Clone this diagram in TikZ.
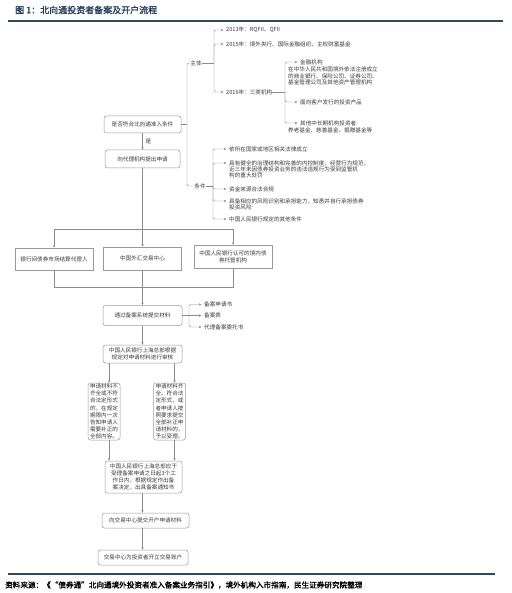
\documentclass[tikz,border=0pt]{standalone}
\usepackage{fontspec}
\newfontfamily\cjk{Noto Sans CJK SC}
\newfontfamily\cjkb[FakeBold=1.5]{Noto Sans CJK SC}
\usetikzlibrary{arrows.meta}
\definecolor{linegray}{HTML}{8C8C8C}
\definecolor{boxgray}{HTML}{9A9A9A}
\definecolor{txt}{HTML}{3A3A3A}
\definecolor{navy}{HTML}{243F60}
\definecolor{barc}{HTML}{2E4B5E}
\begin{document}
\begin{tikzpicture}[x=1pt,y=-1pt,
 box/.style={draw=boxgray, line width=0.5pt, rounded corners=2.5pt, align=center, inner sep=0pt, font=\cjk\fontsize{5.6}{7.2}\selectfont, text=txt},
 sqbox/.style={box, rounded corners=0pt},
 lbl/.style={inner sep=0.5pt, font=\cjk\fontsize{5.6}{7}\selectfont, text=txt},
 item/.style={anchor=west, inner sep=0pt, font=\cjk\fontsize{5.6}{7}\selectfont, text=txt},
 sub/.style={anchor=north west, inner sep=0pt, align=left, font=\cjk\fontsize{5.6}{6.3}\selectfont, text=txt},
 conn/.style={draw=linegray, line width=0.45pt},
 arr/.style={conn, -{Stealth[length=2.6pt,width=2.4pt]}},
 barr/.style={arr, shorten >=2.5pt, rounded corners=1.5pt},
]
\useasboundingbox (0,0) rectangle (511,593);
\fill[white] (0,0) rectangle (511,593);

% title and bars
\node[anchor=west, inner sep=0pt, font=\cjkb\fontsize{9}{10}\selectfont, text=navy] (title) at (15,10) {图 1：北向通投资者备案及开户流程};
\draw[barc, line width=1.8pt] (8,21) -- (503,21);
\draw[barc, line width=1.5pt] (8,574) -- (495,574);
\node[anchor=west, inner sep=0pt, font=\cjkb\fontsize{7.6}{8}\selectfont, text=black] (src) at (5,585) {资料来源：《“债券通”北向通境外投资者准入备案业务指引》，境外机构入市指南，民生证券研究院整理};

% main column
\node[box, minimum width=77pt, minimum height=17pt] (b1) at (142.5,124.5) {是否符合北向通准入条件};
\node[box, minimum width=75pt, minimum height=18pt] (b2) at (142.5,159) {向代理机构提出申请};
\draw[arr] (b1) -- (b2);
\node[lbl, anchor=west] (yes) at (145,141) {是};

\node[sqbox, minimum width=78pt, minimum height=22pt] (ba) at (54,259) {银行间债券市场结算代理人};
\node[sqbox, minimum width=78pt, minimum height=23pt] (bb) at (142.5,258.5) {中国外汇交易中心};
\node[sqbox, minimum width=78pt, minimum height=23pt] (bc) at (233,256.5) {中国人民银行认可的境内债\\券托管机构};
\coordinate (jt) at (142.5,229);
\draw[conn] (b2) -- (jt);
\draw[arr] (jt) -| (ba.north);
\draw[arr] (jt) -| (bc.north);
\draw[arr] (jt) -- (bb.north);
\coordinate (jb) at (142.5,287);
\draw[conn] (ba.south) |- (jb);
\draw[conn] (bc.south) |- (jb);
\draw[conn] (bb.south) -- (jb);

\node[box, minimum width=79pt, minimum height=20pt] (b3) at (142.5,315.5) {通过备案系统提交材料};
\draw[arr] (jb) -- (b3.north);
\coordinate (k3) at (189,315.5);
\node[item] (m1) at (204,304.5) {备案申请书};
\node[item] (m2) at (204,315.5) {备案表};
\node[item] (m3) at (204,327) {代理备案委托书};
\draw[conn] (b3.east) -- (k3);
\draw[barr] (k3) |- (m1.west);
\draw[barr] (k3) -- (m2.west);
\draw[barr] (k3) |- (m3.west);

\node[box, minimum width=79pt, minimum height=18pt] (b4) at (142.5,354) {中国人民银行上海总部根据\\规定对申请材料进行审核};
\draw[arr] (b3) -- (b4);

\node[box, minimum width=32pt, minimum height=57pt] (b5) at (104,411.5) {申请材料不\\齐全或不符\\合法定形式\\的，在规定\\期限内一次\\告知申请人\\需要补正的\\全部内容。};
\node[box, minimum width=32pt, minimum height=57pt] (b6) at (169.5,411.5) {申请材料齐\\全、符合法\\定形式，或\\者申请人按\\照要求提交\\全部补正申\\请材料的，\\予以受理。};
\coordinate (l5) at ([xshift=5pt]b5.north);
\coordinate (l6) at ([xshift=5pt]b6.north);
\draw[arr] (l5 |- b4.south) -- (l5);
\draw[arr] (l6 |- b4.south) -- (l6);

\node[box, minimum width=77pt, minimum height=32pt] (b7) at (143.5,477) {中国人民银行上海总部应于\\受理备案申请之日起3个工\\作日内，根据规定作出备\\案决定，出具备案通知书};
\coordinate (l5b) at ([xshift=5pt]b5.south);
\coordinate (l6b) at ([xshift=5pt]b6.south);
\draw[arr] (l5b) -- (l5b |- b7.north);
\draw[arr] (l6b) -- (l6b |- b7.north);

\node[box, minimum width=87pt, minimum height=15pt] (b8) at (145.5,520.5) {向交易中心提交开户申请材料};
\node[box, minimum width=90pt, minimum height=15pt] (b9) at (143,557.5) {交易中心为投资者开立交易账户};
\coordinate (c7) at (142.5,493);
\draw[arr] (c7) -- (c7 |- b8.north);
\draw[arr] (c7 |- b8.south) -- (c7 |- b9.north);

% right structure
\node[lbl] (zt) at (196,63) {主体};
\node[lbl] (tj) at (200,186) {条件};
\coordinate (kv) at (187,124.5);
\draw[conn] (b1.east) -- (kv);
\draw[conn, rounded corners=2pt] (zt.west) -| (kv) |- (tj.west);

\coordinate (kz) at (214,63);
\node[item] (y13) at (226,30) {2013年：RQFII、QFII};
\node[item] (y15) at (226,44) {2015年：境外央行、国际金融组织、主权财富基金};
\node[item] (y16) at (226,92) {2016年：三类机构};
\draw[conn] (zt.east) -- (kz);
\draw[barr] (kz) |- (y13.west);
\draw[barr] (kz) |- (y15.west);
\draw[barr] (kz) |- (y16.west);

\coordinate (k16) at (285,92);
\draw[conn] (y16.east) -- (k16);
\node[item] (f1) at (300,62) {金融机构};
\node[sub] (f1s) at (288,67) {在中华人民共和国境外依法注册成立\\的商业银行、保险公司、证券公司、\\基金管理公司及其他资产管理机构};
\node[item] (f2) at (300,102) {面向客户发行的投资产品};
\node[item] (f3) at (300,123) {其他中长期机构投资者};
\node[sub] (f3s) at (288,128) {养老基金、慈善基金、捐赠基金等};
\draw[barr] (k16) |- (f1.west);
\draw[barr] (k16) |- (f2.west);
\draw[barr] (k16) |- (f3.west);

\coordinate (kc) at (213,186);
\draw[conn] (tj.east) -- (kc);
\node[item] (c1) at (229,149) {依所在国家或地区相关法律成立};
\node[item] (c2) at (229,163) {具有健全的治理结构和完善的内控制度，经营行为规范，};
\node[sub] (c2s) at (229,166.3) {近三年未因债券投资业务的违法违规行为受到监管机\\构的重大处罚};
\node[item] (c3) at (229,189) {资金来源合法合规};
\node[item] (c4) at (229,201) {具备相应的风险识别和承担能力，知悉并自行承担债券};
\node[sub] (c4s) at (229,204.3) {投资风险};
\node[item] (c5) at (229,219) {中国人民银行规定的其他条件};
\draw[barr] (kc) |- (c1.west);
\draw[barr] (kc) |- (c2.west);
\draw[barr] (kc) |- (c3.west);
\draw[barr] (kc) |- (c4.west);
\draw[barr] (kc) |- (c5.west);
\end{tikzpicture}
\end{document}
